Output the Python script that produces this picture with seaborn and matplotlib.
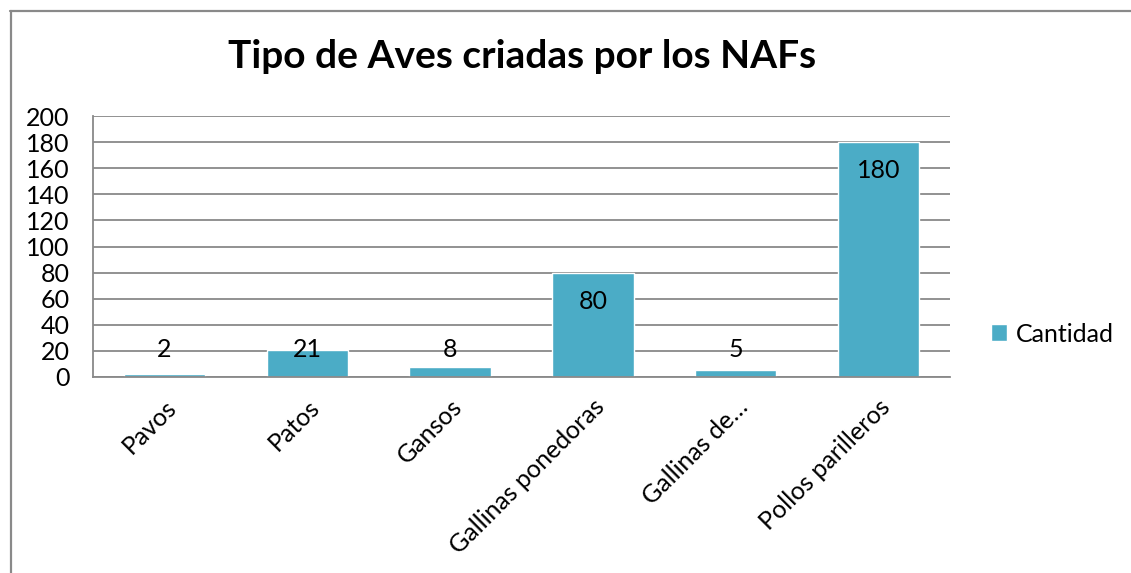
import matplotlib.pyplot as plt
import matplotlib.transforms as mtransforms
import pandas as pd
import seaborn as sns
from matplotlib.lines import Line2D
from matplotlib.patches import Patch

categorias = ["Pavos", "Patos", "Gansos", "Gallinas ponedoras", "Gallinas de…", "Pollos parilleros"]
cantidad = [2, 21, 8, 80, 5, 180]
yticks = list(range(0, 201, 20))

data = pd.DataFrame({"tipo": categorias, "Cantidad": cantidad})

sns.set_style("white")
plt.rcParams["font.family"] = ["Lato", "DejaVu Sans"]
plt.rcParams["text.color"] = "black"
plt.rcParams["xtick.color"] = "black"
plt.rcParams["ytick.color"] = "black"

color_barra = "#4BACC6"
gris = "#898989"
fs = 18

fig = plt.figure(figsize=(11.31, 5.73), dpi=100)
ax = fig.add_axes([93 / 1131, 1 - 377 / 573, (950 - 93) / 1131, (377 - 116) / 573])

sns.barplot(data=data, x="tipo", y="Cantidad", color=color_barra, width=0.57,
            saturation=1, ax=ax)

ax.set_ylim(0, 200)
ax.set_xlim(-0.5, len(categorias) - 0.5)
ax.set_yticks(yticks)
ax.yaxis.grid(True, color=gris, linewidth=1.3)
ax.set_axisbelow(True)
ax.set_xlabel("")
ax.set_ylabel("")
ax.tick_params(axis="y", length=0, pad=17, labelsize=fs, labelcolor="black")
ax.tick_params(axis="x", length=0, pad=13, labelsize=fs, labelcolor="black")
ax.set_xticks(range(len(categorias)))
ax.set_xticklabels(categorias, rotation=45, ha="right", rotation_mode="anchor")
desplaz = mtransforms.ScaledTranslation(0.0, 0, fig.dpi_scale_trans)
for lbl in ax.get_xticklabels():
    lbl.set_transform(lbl.get_transform() + desplaz)

for s in ["top", "right"]:
    ax.spines[s].set_visible(False)
for s in ["left", "bottom"]:
    ax.spines[s].set_color(gris)
    ax.spines[s].set_linewidth(1.3)

# etiquetas de datos (extremo interior, como en Excel)
for i, v in enumerate(cantidad):
    ax.text(i, max(v - 22, 20.7), str(v), ha="center", va="center", fontsize=fs, color="black")

fig.text(0.462, 1 - 57 / 573, "Tipo de Aves criadas por los NAFs", ha="center", va="center",
         fontsize=28, fontweight="bold", color="black")

ax.legend(handles=[Patch(facecolor=color_barra, label="Cantidad")], loc="center left",
          bbox_to_anchor=(1.048, 1 - (334 - 116) / 261), frameon=False, fontsize=fs,
          handlelength=0.65, handleheight=0.65, handletextpad=0.35, borderpad=0, borderaxespad=0)

# borde del gráfico
fig.add_artist(Line2D([10 / 1131, 1], [1 - 10.5 / 573] * 2, color=gris, linewidth=1.6,
                      transform=fig.transFigure))
fig.add_artist(Line2D([10.5 / 1131] * 2, [0, 1 - 10.5 / 573], color=gris, linewidth=1.6,
                      transform=fig.transFigure))

fig.savefig("out.png", dpi=100)
